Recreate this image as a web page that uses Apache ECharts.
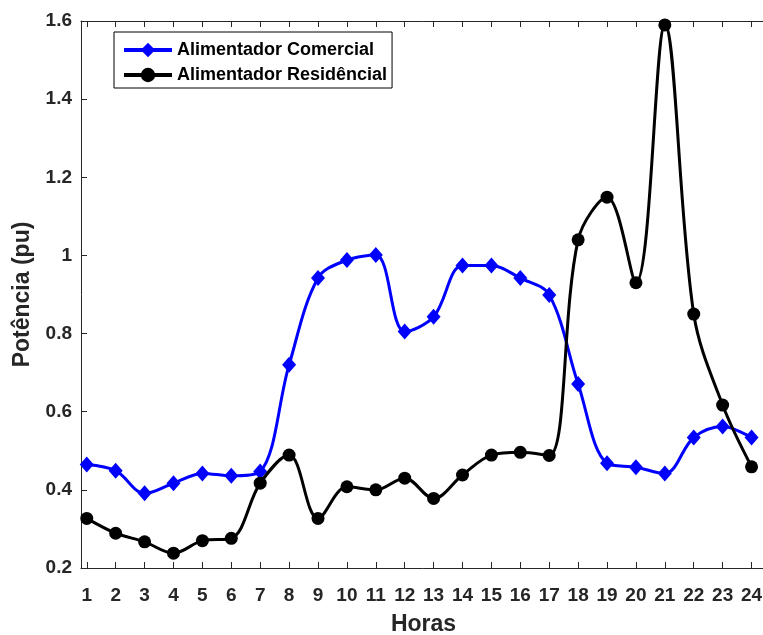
<!DOCTYPE html>
<html>
<head>
<meta charset="utf-8">
<script src="https://cdn.jsdelivr.net/npm/echarts@6/dist/echarts.min.js"></script>
<style>
  html, body { margin: 0; padding: 0; background: #fff; }
  #chart { width: 763px; height: 635px; }
</style>
</head>
<body>
<div id="chart"></div>
<script>
// Hourly load profiles (pu) for two feeders
const hours = [1, 2, 3, 4, 5, 6, 7, 8, 9, 10, 11, 12, 13, 14, 15, 16, 17, 18, 19, 20, 21, 22, 23, 24];
const comercial = [0.465, 0.449, 0.391, 0.417, 0.442, 0.436, 0.447, 0.720, 0.942, 0.988, 1.001, 0.805, 0.843, 0.974, 0.974, 0.942, 0.899, 0.671, 0.468, 0.458, 0.442, 0.534, 0.562, 0.534];
const residencial = [0.327, 0.289, 0.267, 0.238, 0.270, 0.276, 0.417, 0.489, 0.327, 0.408, 0.400, 0.430, 0.378, 0.438, 0.489, 0.496, 0.488, 1.040, 1.149, 0.930, 1.590, 0.850, 0.617, 0.459];
const yTicks = [0.2, 0.4, 0.6, 0.8, 1, 1.2, 1.4, 1.6];

const txt = '#262626';
const fam = '"Liberation Sans", Arial, Helvetica, sans-serif';

const pair = (vals) => hours.map((h, i) => [h, vals[i]]);

const chart = echarts.init(document.getElementById('chart'), null, { renderer: 'canvas' });

chart.setOption({
  animation: false,
  backgroundColor: '#fff',
  textStyle: { fontFamily: fam },
  grid: { left: 81, top: 21, width: 685, height: 547, containLabel: false, outerBoundsMode: 'none' },
  legend: {
    left: 114, top: 32,
    orient: 'vertical',
    itemWidth: 48, itemHeight: 18, itemGap: 7,
    padding: [9, 5, 4, 8],
    borderColor: '#000', borderWidth: 1,
    backgroundColor: '#fff',
    lineStyle: { width: 4 },
    textStyle: { fontFamily: fam, fontSize: 18, fontWeight: 'bold', color: '#000' },
    data: ['Alimentador Comercial', 'Alimentador Residêncial']
  },
  xAxis: [{
    type: 'value', min: 0.8, max: 24.5,
    name: 'Horas', nameLocation: 'middle', nameGap: 45,
    nameTextStyle: { fontFamily: fam, fontSize: 23, fontWeight: 'bold', color: txt },
    axisLine: { lineStyle: { color: txt, width: 1 } },
    axisTick: { inside: true, length: 6, lineStyle: { color: txt }, customValues: hours },
    axisLabel: { customValues: hours, fontFamily: fam, fontSize: 19, fontWeight: 'bold', color: txt, margin: 18 },
    splitLine: { show: false }
  }, {
    type: 'value', min: 0.8, max: 24.5, position: 'top',
    axisLine: { show: true, lineStyle: { color: txt, width: 1 } },
    axisTick: { inside: true, length: 6, lineStyle: { color: txt }, customValues: hours },
    axisLabel: { show: false },
    splitLine: { show: false }
  }],
  yAxis: {
    type: 'value', min: 0.2, max: 1.6, interval: 0.2,
    name: 'Potência (pu)', nameLocation: 'middle', nameGap: 47,
    nameTextStyle: { fontFamily: fam, fontSize: 23, fontWeight: 'bold', color: txt },
    axisLine: { show: true, lineStyle: { color: txt, width: 1 } },
    axisTick: { show: true, inside: true, length: 6, lineStyle: { color: txt } },
    axisLabel: {
      fontFamily: fam, fontSize: 19, fontWeight: 'bold', color: txt, margin: 9,
      formatter: (v) => String(parseFloat(v.toFixed(1)))
    },
    splitLine: { show: false }
  },
  series: [{
    name: 'Alimentador Comercial',
    type: 'line',
    data: pair(comercial),
    smooth: 0.35,
    clip: false,
    symbol: 'diamond', symbolSize: [14, 16],
    lineStyle: { color: '#0000ff', width: 3 },
    itemStyle: { color: '#0000ff' },
    z: 2
  }, {
    name: 'Alimentador Residêncial',
    type: 'line',
    data: pair(residencial),
    smooth: 0.35,
    clip: false,
    symbol: 'circle', symbolSize: 13,
    lineStyle: { color: '#000', width: 3 },
    itemStyle: { color: '#000' },
    z: 3
  }]
});
</script>
</body>
</html>
